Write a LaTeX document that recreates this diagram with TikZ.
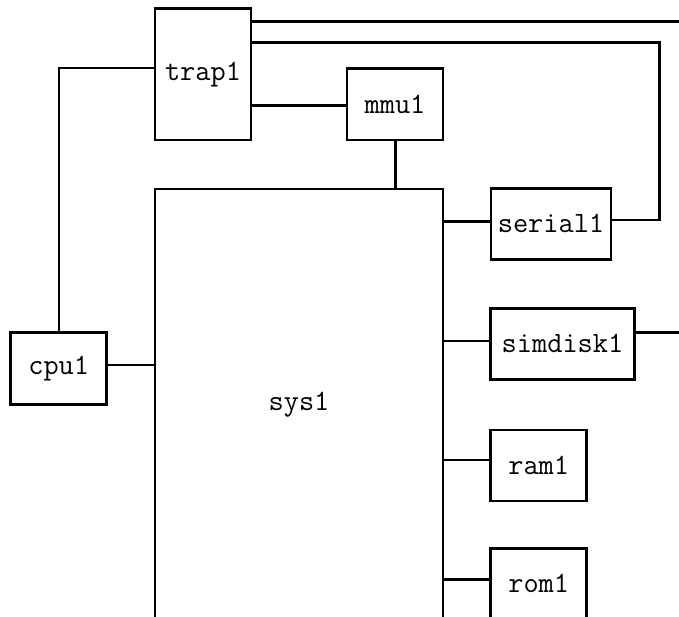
\documentclass[tikz,border=0pt]{standalone}
\usepackage{fontspec}
\begin{document}
\begin{tikzpicture}[x=1pt,y=-1pt,
  box/.style={draw=black,line width=2.6pt,fill=white,inner sep=0pt,
    font=\ttfamily\fontsize{29.5}{33}\selectfont},
  wire/.style={line width=2.6pt,draw=black}]
\useasboundingbox (0,0) rectangle (679,617);
% nodes
\node[box,minimum width=96pt,minimum height=131.5pt] (trap1) at (203,74.3) {trap1};
\node[box,minimum width=96pt,minimum height=71.7pt] (mmu1) at (395,104.2) {mmu1};
\node[box,minimum width=288pt,minimum height=432pt] (sys1) at (299,405) {sys1};
\node[box,minimum width=120.3pt,minimum height=71pt] (serial1) at (551,223.8) {serial1};
\node[box,minimum width=143.6pt,minimum height=71pt] (simdisk1) at (562.5,343.8) {simdisk1};
\node[box,minimum width=96pt,minimum height=71pt] (ram1) at (538.7,465.5) {ram1};
\node[box,minimum width=96pt,minimum height=71pt] (rom1) at (538.7,583.8) {rom1};
\node[box,minimum width=96pt,minimum height=72pt] (cpu1) at (58.7,368.3) {cpu1};
% helper coordinates
\coordinate (out1) at (690,21.7);
\coordinate (bendA) at (659.3,42.7);
\coordinate (bendB) at (659.3,220);
\coordinate (bendC) at (59,68);
\coordinate (out2) at (690,332.3);
% connectors
\draw[wire] (trap1.east |- out1) -- (out1);
\draw[wire] (trap1.east |- bendA) -- (bendA) -- (bendB) -- (serial1.east |- bendB);
\draw[wire] (trap1.east |- 0,105.7) -- (mmu1.west |- 0,105.7);
\draw[wire] (mmu1.south -| 395.7,0) -- (sys1.north -| 395.7,0);
\draw[wire] (trap1.west |- bendC) -- (bendC) -- (cpu1.north -| bendC);
\draw[wire] (cpu1.east |- 0,365) -- (sys1.west |- 0,365);
\draw[wire] (sys1.east |- 0,221.7) -- (serial1.west |- 0,221.7);
\draw[wire] (sys1.east |- 0,341) -- (simdisk1.west |- 0,341);
\draw[wire] (sys1.east |- 0,460) -- (ram1.west |- 0,460);
\draw[wire] (sys1.east |- 0,579.3) -- (rom1.west |- 0,579.3);
\draw[wire] (simdisk1.east |- out2) -- (out2);
\end{tikzpicture}
\end{document}
